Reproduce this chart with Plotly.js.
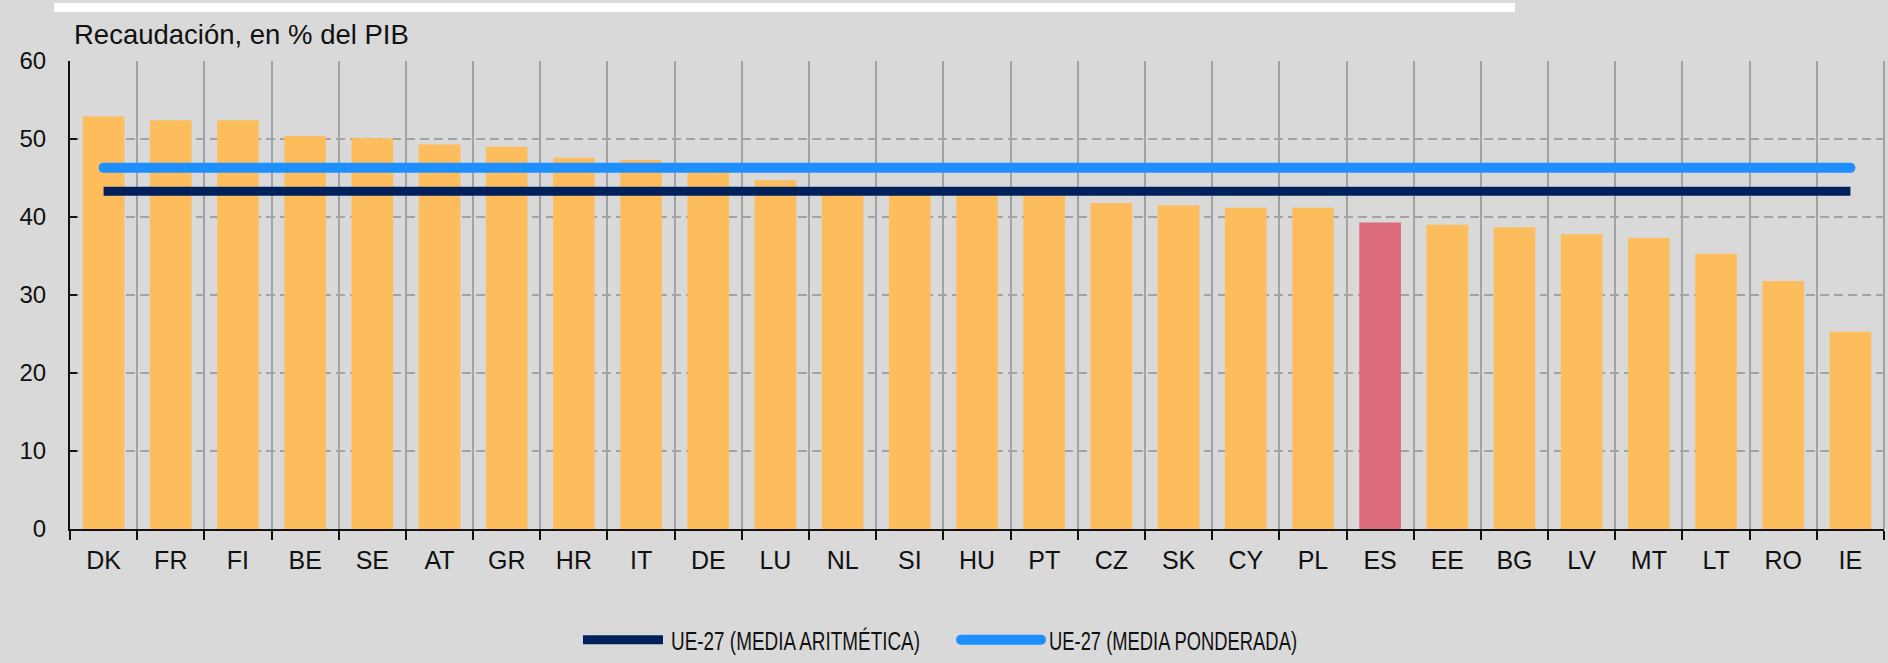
<!DOCTYPE html>
<html>
<head>
<meta charset="utf-8">
<script src="https://cdn.plot.ly/plotly-3.0.1.min.js"></script>
<style>
html, body { margin: 0; padding: 0; background: #d9d9d9; }
#chart { width: 1888px; height: 663px; }
</style>
</head>
<body>
<div id="chart"></div>
<script>
// ---- Data ----
const countries = ["DK","FR","FI","BE","SE","AT","GR","HR","IT","DE","LU","NL","SI","HU","PT","CZ","SK","CY","PL","ES","EE","BG","LV","MT","LT","RO","IE"];
const recaudacion = [52.9,52.4,52.4,50.4,50.1,49.3,49.0,47.6,47.3,46.0,44.7,43.0,42.9,42.8,42.7,41.8,41.5,41.2,41.2,39.3,39.0,38.7,37.8,37.3,35.3,31.8,25.3];
const highlight = "ES";
const mediaAritmetica = 43.3;
const mediaPonderada = 46.3;
const yTicks = [0,10,20,30,40,50,60];
const titleText = "Recaudación, en % del PIB";
const legendArit = "UE-27 (MEDIA ARITMÉTICA)";
const legendPond = "UE-27 (MEDIA PONDERADA)";

const ORANGE = "#FEBD5D";
const RED = "#DB6B79";
const NAVY = "#00205C";
const BLUE = "#1E8FFF";
const BG = "#d9d9d9";
const GRID = "#a3a3a3";
const FONT = "Liberation Sans, Arial, sans-serif";

const first = countries[0], last = countries[countries.length - 1];

const traces = [
  {
    type: "bar",
    x: countries,
    y: recaudacion,
    marker: { color: countries.map(c => c === highlight ? RED : ORANGE) },
    showlegend: false,
    hoverinfo: "x+y"
  },
  {
    type: "scatter",
    mode: "lines",
    x: [first, last],
    y: [mediaAritmetica, mediaAritmetica],
    line: { color: NAVY, width: 9 },
    name: legendArit
  },
  {
    type: "scatter",
    mode: "lines",
    x: [first, last],
    y: [mediaPonderada, mediaPonderada],
    line: { color: BLUE, width: 10 },
    name: legendPond
  }
];

const layout = {
  width: 1888,
  height: 663,
  paper_bgcolor: BG,
  plot_bgcolor: BG,
  margin: { l: 70, r: 4, t: 61, b: 134, pad: 0 },
  bargap: 0.38,
  font: { family: FONT, color: "#111", size: 24 },
  title: {
    text: titleText,
    font: { family: FONT, size: 27.5, color: "#111" },
    xref: "container", x: 74 / 1888, xanchor: "left",
    yref: "container", y: 1 - 34 / 663, yanchor: "middle"
  },
  xaxis: {
    type: "category",
    tickson: "boundaries",
    showgrid: true,
    gridcolor: GRID,
    gridwidth: 2,
    showline: true,
    linecolor: "#111",
    linewidth: 2,
    ticks: "outside",
    ticklen: 9,
    tickwidth: 2,
    tickcolor: "#111",
    tickfont: { family: FONT, size: 25, color: "#111" },
    ticklabelstandoff: 8,
    fixedrange: true
  },
  yaxis: {
    range: [0, 60],
    tickvals: yTicks,
    ticktext: yTicks.map(String),
    showgrid: true,
    gridcolor: GRID,
    gridwidth: 2,
    griddash: "9px,5px",
    zeroline: false,
    showline: true,
    linecolor: "#111",
    linewidth: 2,
    ticks: "inside",
    ticklen: 7,
    tickwidth: 2,
    tickcolor: "#111",
    tickfont: { family: FONT, size: 24, color: "#111" },
    ticklabelstandoff: 17,
    fixedrange: true
  },
  legend: {
    orientation: "h",
    xref: "container", x: 578 / 1888, xanchor: "left",
    yref: "container", y: 1 - 640 / 663, yanchor: "middle",
    font: { family: FONT, size: 25, color: "#111" },
    itemwidth: 80,
    entrywidth: 283,
    entrywidthmode: "pixels",
    bgcolor: "rgba(0,0,0,0)"
  },
  shapes: [
    {
      type: "rect", xref: "paper", yref: "paper",
      x0: (54 - 70) / 1814, x1: (1515 - 70) / 1814,
      y0: 1 + (61 - 12) / 468, y1: 1 + (61 - 3) / 468,
      fillcolor: "#ffffff", line: { width: 0 }, layer: "above"
    },
    {
      type: "line", xref: "paper", yref: "paper",
      x0: 1, x1: 1, y0: 0, y1: 1,
      line: { color: GRID, width: 2 }, layer: "below"
    }
  ],
  showlegend: true
};

const legendTextWidths = [249, 248];

Plotly.newPlot("chart", traces, layout, { displayModeBar: false, staticPlot: true }).then(gd => {
  const lines = gd.querySelectorAll(".scatterlayer .trace");
  if (lines[1]) lines[1].querySelectorAll("path.js-line").forEach(p => p.style.strokeLinecap = "round");
  const leg = gd.querySelectorAll(".legend .traces");
  leg.forEach((g, i) => {
    if (i === 1) g.querySelectorAll("path").forEach(p => p.style.strokeLinecap = "round");
    const t = g.querySelector("text.legendtext");
    if (t) {
      const x0 = parseFloat(t.getAttribute("x")) || 0;
      t.setAttribute("x", x0 + 3);
      t.setAttribute("textLength", legendTextWidths[i]);
      t.setAttribute("lengthAdjust", "spacingAndGlyphs");
    }
  });
});
</script>
</body>
</html>
